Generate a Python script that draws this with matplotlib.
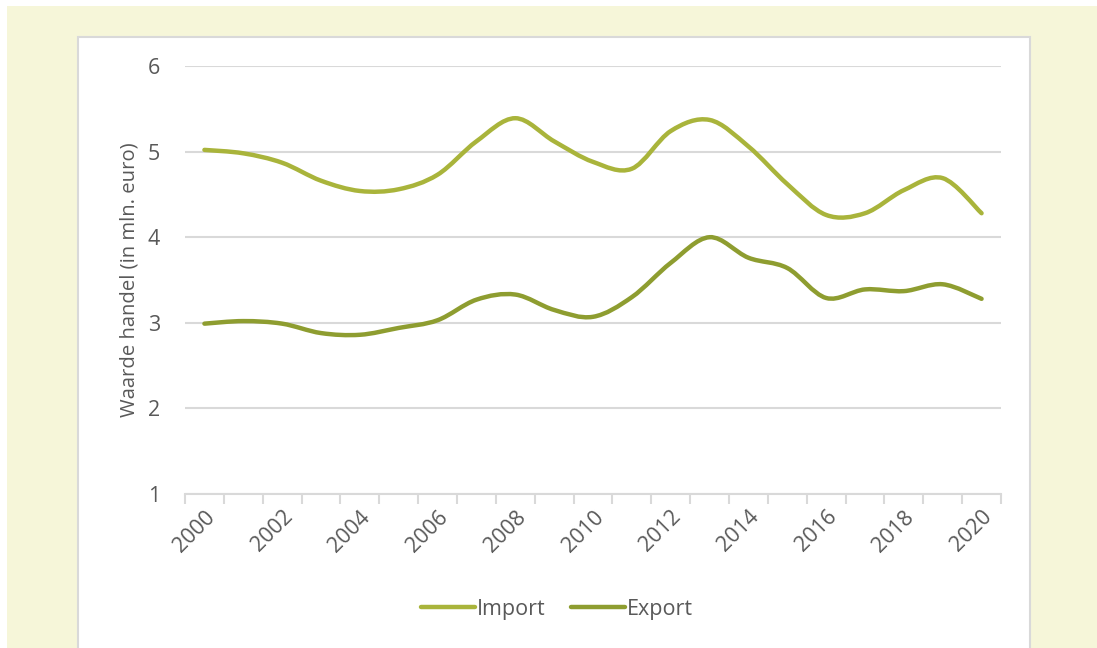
import matplotlib
matplotlib.use("Agg")
import matplotlib.pyplot as plt
import numpy as np
from matplotlib.path import Path
from matplotlib.patches import PathPatch, Rectangle
from matplotlib.lines import Line2D

plt.rcParams['font.family'] = ['Open Sans', 'DejaVu Sans']

years = list(range(2000, 2021))
import_vals = [5.02, 4.98, 4.87, 4.66, 4.54, 4.56, 4.73, 5.12, 5.39, 5.12, 4.88,
               4.80, 5.24, 5.37, 5.06, 4.62, 4.26, 4.28, 4.55, 4.69, 4.28]
export_vals = [2.99, 3.02, 2.99, 2.88, 2.86, 2.94, 3.03, 3.27, 3.33, 3.15, 3.07,
               3.30, 3.70, 4.00, 3.76, 3.64, 3.29, 3.39, 3.37, 3.45, 3.28]
series_names = ["Import", "Export"]
series_colors = ["#A9B43B", "#8E9D30"]
tick_labels = [str(y) for y in years[::2]]

W, H = 1097, 648
fig = plt.figure(figsize=(W / 100, H / 100), dpi=100)
fig.patch.set_facecolor("white")
# yellow background
fig.patches.append(Rectangle((7 / W, 0), 1 - 7 / W, 1 - 6 / H, transform=fig.transFigure,
                             facecolor="#F6F6D9", edgecolor="none", zorder=-3))
# white chart box
fig.patches.append(Rectangle((78 / W, -0.02), (1030 - 78) / W, 0.02 + (H - 37) / H,
                             transform=fig.transFigure, facecolor="white",
                             edgecolor="#D9D9D9", linewidth=1.5, zorder=-2))

ax = fig.add_axes([185 / W, 1 - 494 / H, (1001 - 185) / W, (494 - 66) / H])
ax.set_facecolor("none")

x = np.arange(len(years))


def smooth_path(xs, ys):
    pts = np.column_stack([xs, ys]).astype(float)
    n = len(pts)
    verts = [pts[0]]
    codes = [Path.MOVETO]
    for i in range(n - 1):
        p0 = pts[i - 1] if i > 0 else pts[i]
        p1 = pts[i]
        p2 = pts[i + 1]
        p3 = pts[i + 2] if i + 2 < n else pts[i + 1]
        c1 = p1 + (p2 - p0) / 6.0
        c2 = p2 - (p3 - p1) / 6.0
        verts += [c1, c2, p2]
        codes += [Path.CURVE4] * 3
    return Path(verts, codes)


for vals, col in zip([import_vals, export_vals], series_colors):
    patch = PathPatch(smooth_path(x, vals), facecolor="none", edgecolor=col,
                      linewidth=3.2, capstyle="round", joinstyle="round", zorder=3)
    ax.add_patch(patch)

ax.set_xlim(-0.5, len(years) - 0.5)
ax.set_ylim(1, 6)
ax.set_yticks([1, 2, 3, 4, 5, 6])
ax.grid(axis="y", color="#D9D9D9", linewidth=1.5)
ax.set_axisbelow(True)
for s in ["left", "right", "top"]:
    ax.spines[s].set_visible(False)
ax.spines["bottom"].set_color("#D9D9D9")
ax.spines["bottom"].set_linewidth(1.5)

ax.set_xticks(x[::2])
ax.set_xticklabels(tick_labels, rotation=45, ha="right", va="top",
                   rotation_mode="anchor", fontsize=15.5, color="#595959")
ax.set_xticks(np.arange(-0.5, len(years), 1), minor=True)
ax.tick_params(axis="x", which="major", length=0, pad=9)
ax.tick_params(axis="x", which="minor", length=7, color="#D9D9D9", width=1.5)
ax.tick_params(axis="y", length=0, pad=18, labelsize=15.5, labelcolor="#595959")

ax.set_ylabel("Waarde handel (in mln. euro)", fontsize=14.6, color="#595959", labelpad=6)

handles = [Line2D([], [], color=c, linewidth=3.2, solid_capstyle="round") for c in series_colors]
leg = fig.legend(handles, series_names, loc="center", bbox_to_anchor=(557 / W, 1 - 609 / H),
                 ncol=2, frameon=False, fontsize=15.5, handlelength=2.5, handletextpad=0.1,
                 columnspacing=1.2, labelcolor="#595959")

fig.savefig("out.png", dpi=100)
